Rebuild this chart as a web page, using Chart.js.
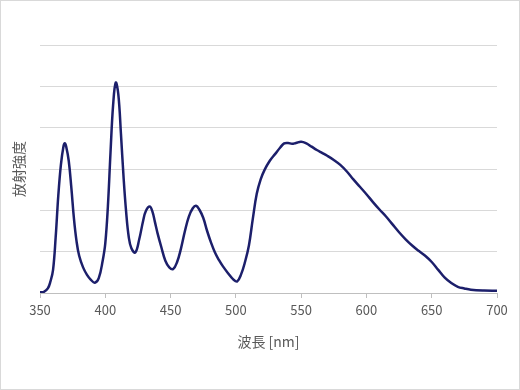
<!DOCTYPE html>
<html><head><meta charset="utf-8">
<script src="https://cdn.jsdelivr.net/npm/chart.js@4"></script>
<style>html,body{margin:0;padding:0;background:#fff}#wrap{width:520px;height:390px;position:relative}</style>
</head><body><div id="wrap"><canvas id="c" width="520" height="390"></canvas></div>
<script>
const wavelengths = [350,353,356,358,360,362,364,366,368,369,370,372,374,376,378,380,383,386,389,392,395,398,400,402,404,406,408,410,412,414,416,418,420,423,426,429,431,434,436,438,440,443,446,449,452,455,458,461,464,467,469.5,472,475,478,481,484,487,490,494,498,501,504,507,510,513,516,519,522,526,530,534,537,540,543,546,550,554,558,562,566,570,575,580,585,590,595,600,605,610,615,620,625,630,635,640,645,650,655,660,665,670,675,680,690,700];
const intensity = [0.02,0.03,0.11,0.28,0.56,1.35,2.35,3.1,3.55,3.62,3.55,3.2,2.55,1.8,1.25,0.9,0.62,0.44,0.32,0.25,0.36,0.78,1.2,2.1,3.4,4.55,5.09,4.8,3.85,2.8,1.95,1.35,1.08,0.98,1.3,1.75,1.98,2.09,1.98,1.72,1.45,1.1,0.78,0.62,0.58,0.75,1.08,1.5,1.85,2.05,2.11,2.02,1.82,1.5,1.22,0.98,0.8,0.65,0.48,0.33,0.28,0.45,0.75,1.15,1.8,2.4,2.75,2.98,3.2,3.36,3.52,3.62,3.63,3.61,3.63,3.66,3.62,3.54,3.46,3.39,3.32,3.22,3.1,2.94,2.75,2.57,2.39,2.2,2.02,1.85,1.66,1.47,1.3,1.15,1.02,0.9,0.75,0.56,0.37,0.24,0.15,0.11,0.08,0.06,0.055];
const xTicks = [350,400,450,500,550,600,650,700];
const xTitle = '波長 [nm]';
const yTitle = '放射強度';

const points = wavelengths.map((w,i)=>({x:w,y:intensity[i]}));
const borderPlugin = {id:'frame',afterDraw(ch){const c=ch.ctx;c.save();c.strokeStyle='#d9d9d9';c.lineWidth=1;c.strokeRect(0.5,0.5,519,389);c.restore();}};
const font = "'Noto Sans CJK JP','Noto Sans',sans-serif";
new Chart(document.getElementById('c'),{
  type:'line',
  data:{datasets:[{data:points,borderColor:'#1c1f6b',borderWidth:2.5,pointRadius:0,tension:0.4,fill:false}]},
  options:{
    responsive:false,animation:false,
    layout:{padding:{top:45,right:23,bottom:0,left:0}},
    plugins:{legend:{display:false},tooltip:{enabled:false}},
    scales:{
      x:{type:'linear',min:350,max:700,
        afterBuildTicks(s){s.ticks=xTicks.map(v=>({value:v}));},
        afterFit(s){s.height=97;},
        grid:{drawOnChartArea:false,drawTicks:true,tickLength:5,tickColor:'#bfbfbf'},
        border:{color:'#bfbfbf',width:1},
        ticks:{color:'#595959',font:{family:font,size:13},padding:4,maxRotation:0},
        title:{display:true,text:xTitle,color:'#595959',font:{family:font,size:14},padding:{top:0,bottom:40}}
      },
      y:{min:0,max:6,
        afterFit(s){s.width=40;},
        ticks:{display:false,stepSize:1},
        grid:{color:'#d9d9d9',drawTicks:false,lineWidth:1},
        border:{display:false},
        title:{display:true,text:yTitle,color:'#595959',font:{family:font,size:14},padding:{top:10,bottom:0}}
      }
    }
  },
  plugins:[borderPlugin]
});
</script></body></html>
